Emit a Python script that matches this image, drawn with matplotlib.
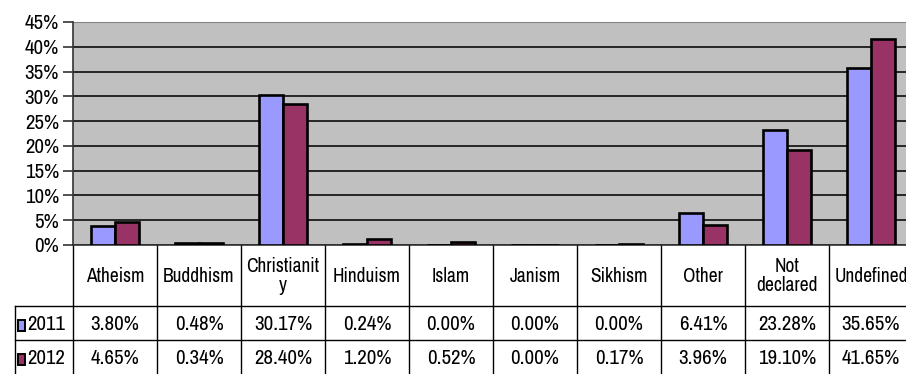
import matplotlib
matplotlib.use('Agg')
import matplotlib.pyplot as plt
import matplotlib.ticker as mtick
from matplotlib.patches import Rectangle
import numpy as np

#####################################################################
# data:
categories = ['Atheism', 'Buddhism', 'Christianit\ny', 'Hinduism', 'Islam',
              'Janism', 'Sikhism', 'Other', 'Not\ndeclared', 'Undefined']
years = ['2011', '2012']
vals_2011 = [3.80, 0.48, 30.17, 0.24, 0.00, 0.00, 0.00, 6.41, 23.28, 35.65]
vals_2012 = [4.65, 0.34, 28.40, 1.20, 0.52, 0.00, 0.17, 3.96, 19.10, 41.65]
colors = ['#9999FF', '#993366']

plt.rcParams['font.family'] = ['Archivo Narrow', 'Liberation Sans', 'DejaVu Sans']

W, H = 906, 374
fig = plt.figure(figsize=(W / 100, H / 100), dpi=100)

# plot area (right edge runs past the picture, as in the reference)
x0, x1, ytop, ybot = 73, 913, 22, 245
ax = fig.add_axes([x0 / W, 1 - ybot / H, (x1 - x0) / W, (ybot - ytop) / H])
ax.set_facecolor('#C0C0C0')

x = np.arange(len(categories))
bw = 1 / 3.5
for i, (vals, c) in enumerate(zip([vals_2011, vals_2012], colors)):
    ax.bar(x + (i - 0.5) * bw, vals, width=bw, color=c, edgecolor='black',
           linewidth=1.9, zorder=3)

#####################################################################
# format:
ax.set_xlim(-0.5, len(categories) - 0.5)
ax.set_ylim(0, 45)
ax.yaxis.set_major_locator(mtick.MultipleLocator(5))
ax.yaxis.set_major_formatter(mtick.FormatStrFormatter('%d%%'))
ax.grid(axis='y', color='#1a1a1a', linewidth=1.3, zorder=1)
ax.set_xticks([])
ax.tick_params(axis='y', length=7, width=1.2, color='#333333', labelsize=15, pad=3)
for s in ['top', 'right']:
    ax.spines[s].set_visible(False)
ax.spines['left'].set_color('#333333')
ax.spines['left'].set_linewidth(1.2)
ax.spines['bottom'].set_color('#333333')
ax.spines['bottom'].set_linewidth(1.2)
ax.axhline(45, color='#808080', linewidth=1.5, zorder=2)

#####################################################################
# data table under the plot:
trans = ax.get_xaxis_transform()
ax_h = ybot - ytop
def fy(py):
    # pixel row (from top) -> axes y fraction
    return (ybot - py) / ax_h

row_mid = [325, 359]
line_kw = dict(color='black', linewidth=1.0, clip_on=False)

# vertical lines at category boundaries
for b in np.arange(-0.5, len(categories), 1.0):
    ax.plot([b, b], [fy(245), fy(380)], transform=trans, **line_kw)

# horizontal lines for the value rows
xl = (15 - x0) / (x1 - x0)
for py in [306, 340]:
    ax.plot([xl, 1], [fy(py), fy(py)], transform=ax.transAxes, **line_kw)
ax.plot([xl, xl], [fy(306), fy(380)], transform=ax.transAxes, **line_kw)

# header text
for xi, name in zip(x, categories):
    ax.text(xi, fy(276), name, transform=trans, ha='center', va='center',
            fontsize=14, linespacing=1.0, clip_on=False)

# value rows
for r, (yr, vals, c) in enumerate(zip(years, [vals_2011, vals_2012], colors)):
    yc = fy(row_mid[r])
    for xi, v in zip(x, vals):
        ax.text(xi, yc, f'{v:.2f}%', transform=trans, ha='center', va='center',
                fontsize=15, clip_on=False)
    # legend key + year label
    kx = (18 - x0) / (x1 - x0)
    kw = 7 / (x1 - x0)
    kh = 11 / ax_h
    ax.add_patch(Rectangle((kx, yc - kh / 2), kw, kh, transform=ax.transAxes,
                           facecolor=c, edgecolor='black', linewidth=1.4,
                           clip_on=False))
    ax.text((27 - x0) / (x1 - x0), yc, yr, transform=ax.transAxes,
            ha='left', va='center', fontsize=15, clip_on=False)

fig.savefig('out.png', dpi=100)
